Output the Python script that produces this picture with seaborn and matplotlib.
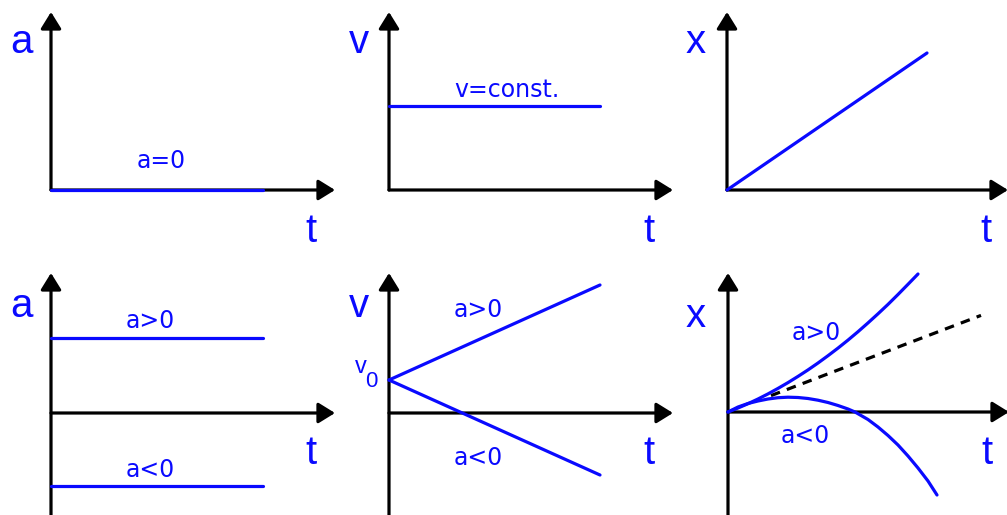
import numpy as np
import matplotlib
matplotlib.use('Agg')
import matplotlib.pyplot as plt
import seaborn as sb

sb.set_style('white')
plt.rcParams['font.family'] = ['Liberation Sans', 'DejaVu Sans']

BLUE = '#0a0aff'

t_short = [0, 212]
a_zero = [0, 0]
v_const = [84, 84]
t_lin = [0, 200]
x_lin = [0, 137]

a_pos = [75, 75]
a_neg = [-73, -73]
t_v = [0, 211]
v_pos = [33, 128]
v_neg = [33, -62]

t_xpos = [0, 10, 20, 30, 40, 50, 60, 70, 80, 90, 100, 110, 120, 130, 140,
          150, 160, 170, 180, 190]
x_pos = [0, 4, 8.3, 13, 18.1, 23.6, 29.4, 35.6, 42.1, 49, 56.3, 63.9, 71.9,
         80.3, 89.1, 98.2, 107.6, 117.5, 127.7, 138]
t_xneg = [0, 10, 20, 30, 40, 50, 60, 70, 80, 90, 100, 110, 120, 127, 140,
          150, 160, 170, 180, 190, 200, 209]
x_neg = [0, 5, 8.5, 11, 13, 14.3, 14.8, 14.5, 13.5, 11.8, 9.5, 6.5, 3, 0,
         -7.5, -15, -23.5, -33, -44, -56, -69, -83]
t_tan = [43, 253]
x_tan = [16.4, 96.6]

W, H = 1007, 515
fig = plt.figure(figsize=(W / 100, H / 100), dpi=100)


def panel(L, R, T, B, ox, oy):
    ax = fig.add_axes([L / W, 1 - B / H, (R - L) / W, (B - T) / H])
    ax.set_xlim(L - ox, R - ox)
    ax.set_ylim(oy - B, oy - T)
    ax.set_axis_off()
    return ax


def arrow(ax, start, tip):
    ax.annotate('', xy=tip, xytext=start, annotation_clip=False,
                arrowprops=dict(arrowstyle='-|>,head_length=0.42,head_width=0.26',
                                mutation_scale=24, lw=2.3, color='black',
                                shrinkA=0, shrinkB=0))


def axes_arrows(ax, ybot, ytop, xtip):
    arrow(ax, (0, ybot), (0, ytop))
    arrow(ax, (0, 0), (xtip, 0))


def blue_line(ax, x, y):
    sb.lineplot(x=x, y=y, ax=ax, color=BLUE, lw=2.3, zorder=5)


def big(ax, x, y, s):
    ax.text(x, y, s, color=BLUE, fontsize=29, ha='center', va='baseline')


def small(ax, x, y, s):
    ax.text(x, y, s, color=BLUE, fontsize=17, ha='center', va='baseline',
            family=['DejaVu Sans'])


# top row
ax1 = panel(0, 340, 0, 258, 51, 190)
axes_arrows(ax1, 0, 178, 284)
blue_line(ax1, t_short, a_zero)
big(ax1, 21 - 51, 190 - 53, 'a')
big(ax1, 311 - 51, 190 - 242, 't')
small(ax1, 161 - 51, 190 - 168, 'a=0')

ax2 = panel(340, 680, 0, 258, 389, 190)
axes_arrows(ax2, 0, 178, 284)
blue_line(ax2, t_v, v_const)
big(ax2, 359 - 389, 190 - 53, 'v')
big(ax2, 649 - 389, 190 - 242, 't')
small(ax2, 507 - 389, 190 - 97, 'v=const.')

ax3 = panel(680, 1007, 0, 258, 727, 190)
axes_arrows(ax3, 0, 178, 281)
blue_line(ax3, t_lin, x_lin)
big(ax3, 696 - 727, 190 - 53, 'x')
big(ax3, 986 - 727, 190 - 242, 't')

# bottom row
ax4 = panel(0, 340, 258, 515, 51, 413)
axes_arrows(ax4, -110, 140, 284)
blue_line(ax4, t_short, a_pos)
blue_line(ax4, t_short, a_neg)
big(ax4, 21 - 51, 413 - 317, 'a')
big(ax4, 311 - 51, 413 - 464, 't')
small(ax4, 150 - 51, 413 - 328, 'a>0')
small(ax4, 150 - 51, 413 - 477, 'a<0')

ax5 = panel(340, 680, 258, 515, 389, 413)
axes_arrows(ax5, -110, 140, 284)
blue_line(ax5, t_v, v_pos)
blue_line(ax5, t_v, v_neg)
big(ax5, 359 - 389, 413 - 317, 'v')
big(ax5, 649 - 389, 413 - 464, 't')
small(ax5, 478 - 389, 413 - 317, 'a>0')
small(ax5, 478 - 389, 413 - 465, 'a<0')
ax5.text(361 - 389, 413 - 373, 'v', color=BLUE, fontsize=17,
         ha='center', va='baseline')
ax5.text(371 - 389, 413 - 387, '0', color=BLUE, fontsize=16,
         ha='center', va='baseline')

ax6 = panel(680, 1007, 258, 515, 728, 412)
axes_arrows(ax6, -110, 139, 281)
ax6.plot(t_tan, x_tan, color='black', lw=2.3, ls=(0, (3, 2.3)))
blue_line(ax6, t_xpos, x_pos)
blue_line(ax6, t_xneg, x_neg)
big(ax6, 696 - 728, 412 - 327, 'x')
big(ax6, 987 - 728, 412 - 464, 't')
small(ax6, 816 - 728, 412 - 340, 'a>0')
small(ax6, 805 - 728, 412 - 443, 'a<0')

plt.savefig('out.png', dpi=100)
